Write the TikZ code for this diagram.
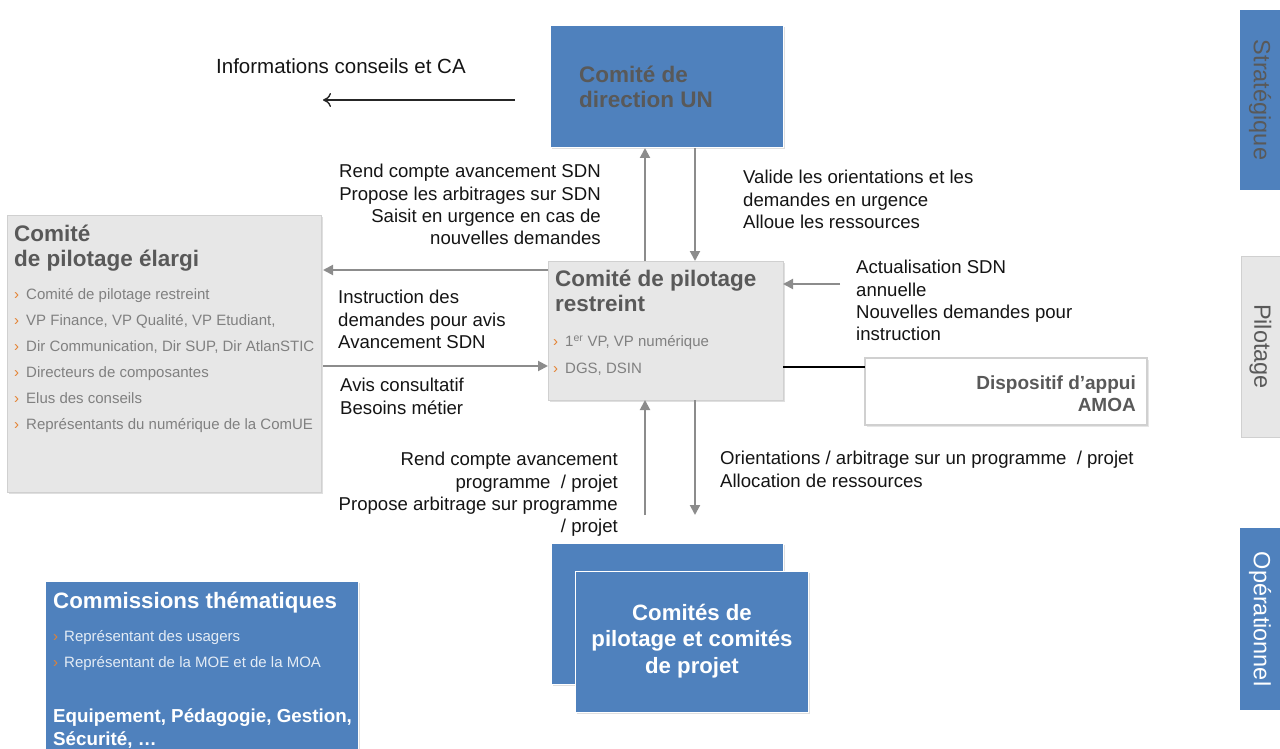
\documentclass[tikz,border=0pt]{standalone}
\usepackage{fontspec}
\setmainfont{Liberation Sans}
\usetikzlibrary{arrows.meta,shadows,calc}
\definecolor{blueC}{RGB}{79,129,189}
\definecolor{grayfill}{RGB}{231,231,231}
\definecolor{grayborder}{RGB}{208,208,208}
\definecolor{darktext}{RGB}{89,89,89}
\definecolor{bullettext}{RGB}{128,128,128}
\definecolor{orangeC}{RGB}{228,130,50}
\definecolor{arrowgray}{RGB}{140,140,140}
\definecolor{lbltext}{RGB}{20,20,20}
\newcommand{\bul}{\makebox[12pt][l]{\textcolor{orangeC}{›}}}
\begin{document}
\begin{tikzpicture}[x=1pt,y=-1pt,
  box/.style={draw=none, anchor=north west, inner sep=0pt, outer sep=0pt},
  bluebox/.style={box, fill=blueC, draw=white, line width=1pt,
    drop shadow={shadow xshift=1.5pt, shadow yshift=-1.5pt, opacity=0.25}},
  graybox/.style={box, fill=grayfill, draw=grayborder, line width=0.8pt,
    drop shadow={shadow xshift=1.5pt, shadow yshift=-1.5pt, opacity=0.25}},
  lbl/.style={font=\fontsize{18.6}{22.3}\selectfont, inner sep=0pt, text=lbltext},
  ttl/.style={font=\fontsize{22.5}{24.3}\selectfont\bfseries, inner sep=0pt, text=darktext, align=left, anchor=north west},
  bl/.style={font=\fontsize{15}{26}\selectfont, inner sep=0pt, text=bullettext, align=left, anchor=north west},
  garrow/.style={draw=arrowgray, line width=2pt, -{Triangle[length=10pt,width=10pt]}},
  tabtxt/.style={font=\fontsize{23.5}{26}\selectfont, rotate=-90, inner sep=0pt}
]
\useasboundingbox (0,0) rectangle (1280,749);

% ---- boxes
\node[bluebox, minimum width=233pt, minimum height=122pt] (dir) at (550,26) {};
\node[graybox, minimum width=314pt, minimum height=277pt] (elargi) at (7,215) {};
\node[graybox, minimum width=235pt, minimum height=139pt] (restr) at (548,261) {};
\node[box, fill=white, draw=grayborder, line width=1.2pt, minimum width=282pt, minimum height=67pt,
  drop shadow={shadow xshift=1.5pt, shadow yshift=-1.5pt, opacity=0.2}] (amoa) at (865,358) {};
\node[bluebox, minimum width=232pt, minimum height=141pt] (projback) at (551,543) {};
\node[bluebox, minimum width=233pt, minimum height=141pt] (proj) at (575,571) {};
\node[bluebox, minimum width=313pt, minimum height=172pt] (comm) at (45,581) {};

% ---- tabs
\node[box, fill=blueC, minimum width=40pt, minimum height=180pt] (tstrat) at (1240,10) {};
\node[box, fill=grayfill, draw=grayborder, line width=0.8pt, minimum width=39pt, minimum height=181pt] (tpilot) at (1241,256) {};
\node[box, fill=blueC, minimum width=40pt, minimum height=182pt] (toper) at (1240,528) {};
\node[tabtxt, text=darktext] (tstratT) at (tstrat.center) {Stratégique};
\node[tabtxt, text=darktext] (tpilotT) at (tpilot.center) {Pilotage};
\node[tabtxt, text=white] (toperT) at (toper.center) {Opérationnel};

% ---- box texts
\node[ttl] (dirT) at (579,66) {Comité de\\direction UN};
\node[ttl] (elargiT) at (14,225) {Comité\\de pilotage élargi};
\node[bl] (elargiB) at (14,288) {\bul Comité de pilotage restreint\\
  \bul VP Finance, VP Qualité, VP Etudiant,\\
  \bul Dir Communication, Dir SUP, Dir AtlanSTIC\\
  \bul Directeurs de composantes\\
  \bul Elus des conseils\\
  \bul Représentants du numérique de la ComUE};
\node[ttl] (restrT) at (555,270) {Comité de pilotage\\restreint};
\node[bl, font=\fontsize{15}{27}\selectfont] (restrB) at (553,335) {\bul 1\textsuperscript{er} VP, VP numérique\\ \bul DGS, DSIN};
\node[font=\fontsize{19}{22}\selectfont\bfseries, text=darktext, inner sep=0pt, align=right, anchor=north east] (amoaT) at (1136,376) {Dispositif d’appui\\AMOA};
\node[font=\fontsize{22.2}{26.5}\selectfont\bfseries, text=white, inner sep=0pt, align=center, anchor=north] (projT) at (692,604) {Comités de\\pilotage et comités\\de projet};
\node[ttl, text=white, font=\fontsize{22.3}{24}\selectfont\bfseries] (commT) at (53,592) {Commissions thématiques};
\node[bl, text=white!85!blueC] (commB) at (53,630) {\makebox[11pt][l]{\textcolor{orangeC}{›}}Représentant des usagers\\ \makebox[11pt][l]{\textcolor{orangeC}{›}}Représentant de la MOE et de la MOA};
\node[ttl, text=white, font=\fontsize{18.8}{23}\selectfont\bfseries] (commE) at (53,709) {Equipement, Pédagogie, Gestion,\\Sécurité, …};

% ---- labels
\node[lbl, anchor=north west, font=\fontsize{20.5}{24}\selectfont] (infoT) at (216,58) {Informations conseils et CA};
\node[lbl, anchor=north east, align=right] (upL) at (601,164.3) {Rend compte avancement SDN\\Propose les arbitrages sur SDN\\Saisit en urgence en cas de\\nouvelles demandes};
\node[lbl, anchor=north west, align=left] (downR) at (743,170.3) {Valide les orientations et les\\demandes en urgence\\Alloue les ressources};
\node[lbl, anchor=north west, align=left] (instrT) at (338,290.3) {Instruction des\\demandes pour avis\\Avancement SDN};
\node[lbl, anchor=north west, align=left] (avisT) at (340,378.3) {Avis consultatif\\Besoins métier};
\node[lbl, anchor=north west, align=left] (actuT) at (856,260.3) {Actualisation SDN\\annuelle\\Nouvelles demandes pour\\instruction};
\node[lbl, anchor=north east, align=right] (botL) at (618,452.3) {Rend compte avancement\\programme~ / projet\\Propose arbitrage sur programme\\/ projet};
\node[lbl, anchor=north west, align=left] (botR) at (720,451.3) {Orientations / arbitrage sur un programme~ / projet\\Allocation de ressources};

% ---- free ends
\coordinate (infoA) at (515,100);
\coordinate (infoB) at (323,100);
\coordinate (actuA) at (840,284);
\coordinate (botUp) at (645,515);
\coordinate (botDown) at (695,515);

% ---- connectors
\draw[black!85, line width=1.4pt, -{To[length=8pt,width=14pt]}] (infoA) -- (infoB);
\draw[garrow] ([xshift=97pt]restr.north west) -- ([xshift=95pt]dir.south west);
\draw[garrow] ([xshift=145pt]dir.south west) -- ([xshift=147pt]restr.north west);
\draw[garrow] ([yshift=-9pt]restr.north west) -- ([yshift=-55pt,xshift=2pt]elargi.north east);
\draw[garrow] ([yshift=-151pt,xshift=2pt]elargi.north east) -- ([yshift=-105pt]restr.north west);
\draw[garrow] (actuA) -- ([yshift=-23pt]restr.north east);
\draw[garrow] (botUp) -- ([xshift=97pt]restr.south west);
\draw[garrow] ([xshift=147pt]restr.south west) -- (botDown);
\draw[black, line width=1.3pt] ([yshift=-106pt]restr.north east) -- ([yshift=-9pt]amoa.north west);
\end{tikzpicture}
\end{document}
